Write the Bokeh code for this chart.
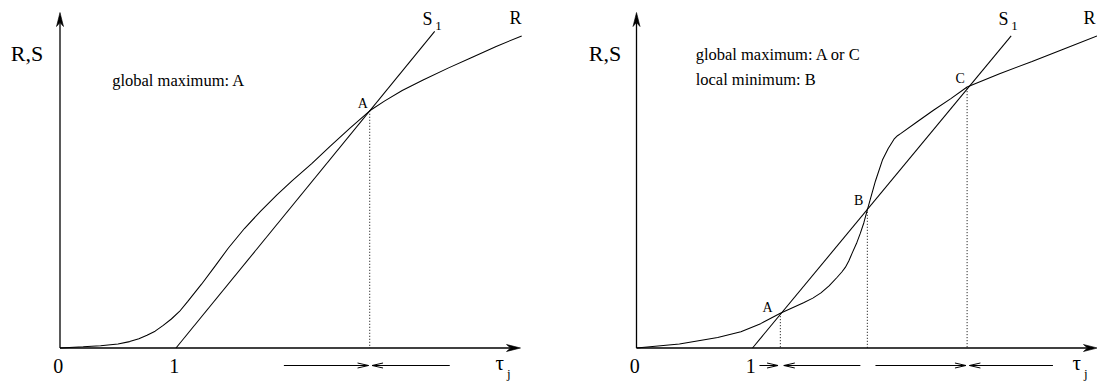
from bokeh.plotting import figure
from bokeh.models import Range1d
from bokeh.layouts import row
from bokeh.embed import file_html
from bokeh.resources import INLINE
from bokeh.core.properties import value

# ---------------- data (tau_j on x, R / S on y) ----------------
# left panel: one crossing -> global maximum A
left_R_tau = [0.00, 0.20, 0.35, 0.50, 0.60, 0.68, 0.75, 0.82, 0.89, 0.96, 1.03, 1.10, 1.22, 1.34,
              1.45, 1.59, 1.73, 1.87, 2.00, 2.17, 2.33, 2.50, 2.67, 2.80, 2.95, 3.13, 3.35, 3.54, 3.76, 3.98]
left_R_val = [0.00, 0.01, 0.02, 0.035, 0.055, 0.08, 0.11, 0.145, 0.195, 0.25, 0.315, 0.40, 0.55, 0.71,
              0.86, 1.03, 1.18, 1.32, 1.44, 1.59, 1.74, 1.895, 2.045, 2.13, 2.22, 2.31, 2.415, 2.50, 2.60, 2.69]
left_S1_tau = [1.00, 3.23]
left_S1_val = [0.00, 2.73]
left_eq_names = ["A"]
left_eq_tau = [2.67]
left_eq_val = [2.045]
left_arrow_from = [1.93, 3.36]
left_arrow_to = [2.66, 2.69]
left_notes = ["global maximum: A"]

# right panel: three crossings A, B, C
right_R_tau = [0.00, 0.37, 0.70, 0.90, 1.07, 1.24, 1.44, 1.52, 1.59, 1.66, 1.73, 1.77, 1.80, 1.83,
               1.86, 1.90, 1.93, 1.96, 1.99, 2.06, 2.12, 2.17, 2.22, 2.25, 2.28, 2.42, 2.56, 2.71,
               2.85, 3.13, 3.41, 3.69, 3.97]
right_R_val = [0.00, 0.035, 0.09, 0.14, 0.21, 0.30, 0.39, 0.43, 0.475, 0.535, 0.61, 0.655, 0.695, 0.75,
               0.82, 0.91, 0.99, 1.08, 1.19, 1.44, 1.62, 1.72, 1.80, 1.83, 1.85, 1.95, 2.05, 2.15,
               2.25, 2.365, 2.47, 2.58, 2.69]
right_S1_tau = [1.00, 3.23]
right_S1_val = [0.00, 2.69]
right_eq_names = ["A", "B", "C"]
right_eq_tau = [1.24, 1.99, 2.85]
right_eq_val = [0.30, 1.20, 2.24]
right_arrow_from = [1.06, 1.93, 2.06, 3.59]
right_arrow_to = [1.22, 1.27, 2.84, 2.87]
right_notes = ["global maximum: A or C", "local minimum: B"]

tick_labels = ["0", "1"]
tick_tau = [0.0, 1.0]

# ---------------- layout / style ----------------
PX = 1.0 / 116.0          # data units per pixel (same on both axes)
BASE_Y = 347.5            # page y of the tau axis
TOP_Y, BOT_Y = 0, 384     # page extent of the canvas
FONT = value("Liberation Serif")


def filled_head(p, x, y, dx, dy):
    L, W, N = 14 * PX, 3.5 * PX, 4 * PX
    qx, qy = -dy, dx
    xs = [x, x - L * dx + W * qx, x - (L - N) * dx, x - L * dx - W * qx]
    ys = [y, y - L * dy + W * qy, y - (L - N) * dy, y - L * dy - W * qy]
    p.patch(xs, ys, fill_color="black", line_color="black", line_width=0.6)


def open_arrow(p, x0, x1, y):
    d = 1.0 if x1 > x0 else -1.0
    L, H = 11 * PX, 2.5 * PX
    p.line([x0, x1], [y, y], line_color="black", line_width=1)
    p.multi_line([[x1 - d * L, x1], [x1 - d * L, x1]],
                 [[y + H, y], [y - H, y]], line_color="black", line_width=1)


def txt(p, x, y, t, size, align="center"):
    p.text(x=x, y=y, text=t, text_font=FONT, text_font_size=value(size),
           text_align=align, text_baseline="middle", text_color="black")


def panel(origin_px, left_px, right_px, R_tau, R_val, S_tau, S_val,
          eq_names, eq_tau, eq_val, lab_dx, lab_dy,
          arr_from, arr_to, notes, notes_x, notes_y, rs_x, x_end, s_lab_x, r_lab_x):
    p = figure(width=right_px - left_px, height=BOT_Y - TOP_Y,
               x_range=Range1d((left_px - origin_px) * PX, (right_px - origin_px) * PX),
               y_range=Range1d((BASE_Y - BOT_Y) * PX, (BASE_Y - TOP_Y) * PX),
               output_backend="svg", toolbar_location=None,
               x_axis_location=None, y_axis_location=None, min_border=0)
    p.grid.visible = False
    p.outline_line_color = None
    p.background_fill_color = "white"
    p.border_fill_color = "white"

    y_top = (BASE_Y - 12) * PX
    # axes with filled heads
    p.line([0, 0], [0, y_top - 10 * PX], line_color="black", line_width=1.3)
    filled_head(p, 0, y_top, 0, 1)
    p.line([0, x_end - 10 * PX], [0, 0], line_color="black", line_width=1.3)
    filled_head(p, x_end, 0, 1, 0)

    # curves
    p.line(R_tau, R_val, line_color="black", line_width=1.05)
    p.line(S_tau, S_val, line_color="black", line_width=1.05)

    # dotted drop lines from crossings
    p.segment(x0=eq_tau, y0=eq_val, x1=eq_tau, y1=[0] * len(eq_tau),
              line_color="black", line_width=1, line_dash="1 2")

    # crossing labels
    txt(p, [t + d for t, d in zip(eq_tau, lab_dx)],
        [v + d for v, d in zip(eq_val, lab_dy)], eq_names, "14px")

    # convergence arrows below the axis
    ya = -17.5 * PX
    for a, b in zip(arr_from, arr_to):
        open_arrow(p, a, b, ya)

    # tick labels
    txt(p, [t - 0.015 for t in tick_tau], [ya] * len(tick_tau), tick_labels, "20px")
    # axis names
    txt(p, [rs_x], [(BASE_Y - 53) * PX], ["R,S"], "22px")
    txt(p, [x_end - 0.18], [ya + 3 * PX], ["\u03c4"], "21px")
    txt(p, [x_end - 0.10], [ya - 8 * PX], ["j"], "13px")
    # curve names
    txt(p, [s_lab_x], [(BASE_Y - 18) * PX], ["S"], "18px")
    txt(p, [s_lab_x + 11 * PX], [(BASE_Y - 25) * PX], ["1"], "13px")
    txt(p, [r_lab_x], [(BASE_Y - 17) * PX], ["R"], "18px")
    # notes
    txt(p, [notes_x] * len(notes), notes_y, notes, "16.5px", align="left")
    return p


p1 = panel(59.5, 0, 565, left_R_tau, left_R_val, left_S1_tau, left_S1_val,
           left_eq_names, left_eq_tau, left_eq_val, [-0.06], [0.06],
           left_arrow_from, left_arrow_to, left_notes, 0.45,
           [(BASE_Y - 80) * PX], -0.284, 3.97, 3.168, 3.927)

p2 = panel(636, 565, 1097, right_R_tau, right_R_val, right_S1_tau, right_S1_val,
           right_eq_names, right_eq_tau, right_eq_val, [-0.11, -0.075, -0.06], [0.05, 0.075, 0.085],
           right_arrow_from, right_arrow_to, right_notes, 0.51,
           [(BASE_Y - 54) * PX, (BASE_Y - 79) * PX], -0.272, 3.974, 3.164, 3.905)

layout = row(p1, p2)
open("out.html", "w").write(file_html(layout, INLINE))
